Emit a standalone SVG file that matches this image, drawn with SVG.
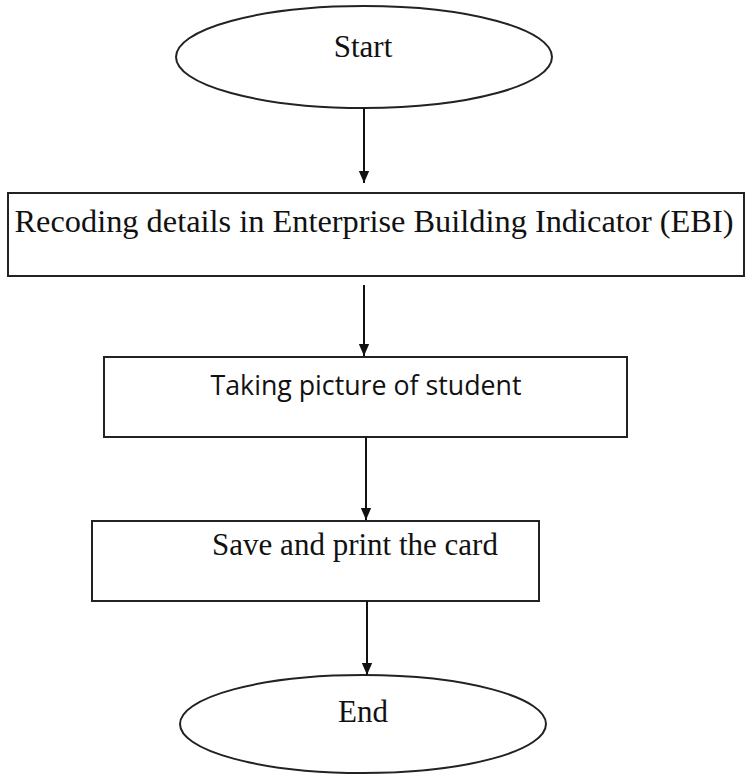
<svg xmlns="http://www.w3.org/2000/svg" width="751" height="774" viewBox="0 0 751 774">
<style>
.shape{fill:#fff;stroke:#222;stroke-width:2}
.serif{font-family:"Liberation Serif","Times New Roman",serif;font-size:31px;fill:#111}
.sans{font-family:"Open Sans","Noto Sans",sans-serif;font-size:27px;fill:#111}
.conn{stroke:#111;stroke-width:2;fill:none}
</style>
<defs>
<marker id="arr" markerWidth="12" markerHeight="14" refX="6" refY="14" orient="auto-start-reverse" markerUnits="userSpaceOnUse" viewBox="0 0 12 14">
<path d="M0,0 L12,0 L6,14 Z" fill="#111" transform="rotate(-90 6 7) translate(0 0)"/>
</marker>
<marker id="ah" markerWidth="12" markerHeight="14" refX="14" refY="6" orient="auto" markerUnits="userSpaceOnUse" viewBox="0 0 14 12">
<path d="M0,0 L14,6 L0,12 Z" fill="#111"/>
</marker>
</defs>
<rect width="751" height="774" fill="#fff"/>
<g id="start">
<ellipse class="shape" cx="364" cy="57" rx="188" ry="51"/>
<text class="serif" x="363" y="57" text-anchor="middle">Start</text>
</g>
<g id="recoding">
<rect class="shape" x="8" y="193" width="736" height="83"/>
<text class="serif" x="374" y="232" text-anchor="middle" textLength="719" lengthAdjust="spacingAndGlyphs">Recoding details in Enterprise Building Indicator (EBI)</text>
</g>
<g id="picture">
<rect class="shape" x="104" y="357" width="523" height="80"/>
<text class="sans" x="366" y="395" text-anchor="middle" textLength="311" lengthAdjust="spacingAndGlyphs">Taking picture of student</text>
</g>
<g id="save">
<rect class="shape" x="92" y="521" width="447" height="80"/>
<text class="serif" x="355" y="555" text-anchor="middle">Save and print the card</text>
</g>
<g id="end">
<ellipse class="shape" cx="363" cy="724" rx="183" ry="49"/>
<text class="serif" x="363" y="722" text-anchor="middle">End</text>
</g>
<g id="connectors">
<line class="conn" x1="364" y1="108" x2="364" y2="183" marker-end="url(#ah)"/>
<line class="conn" x1="364" y1="285" x2="364" y2="356" marker-end="url(#ah)"/>
<line class="conn" x1="366" y1="437" x2="366" y2="520" marker-end="url(#ah)"/>
<line class="conn" x1="367" y1="601" x2="367" y2="675" marker-end="url(#ah)"/>
</g>
</svg>
